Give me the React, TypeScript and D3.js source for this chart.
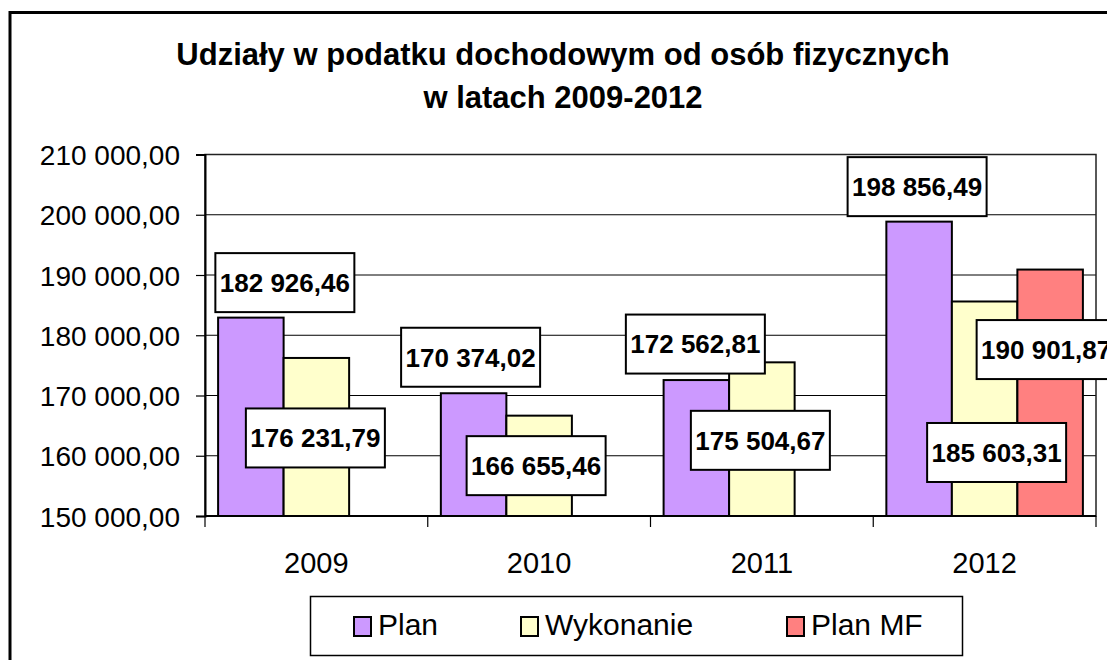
import * as d3 from 'd3'
import React, { useRef, useEffect } from 'react'

// chart data
const years = ['2009', '2010', '2011', '2012']
const seriesNames = ['Plan', 'Wykonanie', 'Plan MF']
const planValues = [182926.46, 170374.02, 172562.81, 198856.49]
const wykonanieValues = [176231.79, 166655.46, 175504.67, 185603.31]
const planMfValues: (number | null)[] = [null, null, null, 190901.87]
const yTicks = [150000, 160000, 170000, 180000, 190000, 200000, 210000]
const titleLines = ['Udziały w podatku dochodowym od osób fizycznych', 'w latach 2009-2012']

// where the value boxes were dragged to (offset from the top centre of each bar)
const labelOffsets: ([number, number] | null)[][] = [
    [[34, -35], [-3, -36], [-1, -36], [-2, -35]],
    [[-1, 80], [-3, 50], [-1.5, 78], [12, 151]],
    [null, null, null, [-4, 80]],
]
const colors = ['#CC99FF', '#FFFFCC', '#FF8080']
const legendX = [354, 521, 787]

const FONT = '"Liberation Sans", Arial, sans-serif'

export default function App() {
    const svgRef = useRef<SVGSVGElement>(null)

    useEffect(() => {
        const w = 1107
        const h = 660
        const left = 205, right = 1096, top = 154.5, bottom = 516

        const svg = d3.select(svgRef.current)
        svg.selectAll('*').remove()
        svg.attr('width', w).attr('height', h).style('font-family', FONT)

        // outer chart frame (only left and top are inside the picture)
        svg.append('rect')
            .attr('x', 10).attr('y', 12.5)
            .attr('width', w + 20).attr('height', h + 20)
            .attr('fill', 'white').attr('stroke', 'black').attr('stroke-width', 3)

        // title
        svg.append('text')
            .attr('text-anchor', 'middle')
            .attr('font-weight', 'bold')
            .attr('font-size', 31)
            .selectAll('tspan')
            .data(titleLines)
            .join('tspan')
            .attr('x', 563)
            .attr('y', (d, i) => 65 + i * 43)
            .text(d => d)

        const x0 = d3.scaleBand().domain(years).range([left, right]).paddingInner(0).paddingOuter(0)
        const x1 = d3.scaleBand().domain(seriesNames).range([0, x0.bandwidth()]).paddingInner(0).paddingOuter(0.2)
        const y = d3.scaleLinear().domain([150000, 210000]).range([bottom, top])

        const locale = d3.formatLocale({ decimal: ',', thousands: ' ', grouping: [3], currency: ['', ''] })
        const fmt = locale.format(',.2f')

        // grid
        svg.append('g')
            .selectAll('line')
            .data(yTicks)
            .join('line')
            .attr('x1', left).attr('x2', right)
            .attr('y1', d => y(d)).attr('y2', d => y(d))
            .attr('stroke', 'black').attr('stroke-width', 1)

        // plot frame
        svg.append('rect')
            .attr('x', left).attr('y', top)
            .attr('width', right - left).attr('height', bottom - top)
            .attr('fill', 'none').attr('stroke', '#222').attr('stroke-width', 1.5)

        // y axis
        const yAxis = svg.append('g')
            .attr('transform', `translate(${left},0)`)
            .call(d3.axisLeft(y).tickValues(yTicks).tickFormat(d => fmt(d as number)).tickSize(9).tickPadding(16))
        yAxis.select('.domain').attr('stroke', 'black').attr('stroke-width', 2)
        yAxis.selectAll('.tick line').attr('stroke', 'black').attr('stroke-width', 1.2)
        yAxis.selectAll('.tick text')
            .attr('font-family', FONT).attr('font-size', 28).attr('fill', 'black')
            .attr('dy', '0.36em')

        // bars
        const allValues = [planValues, wykonanieValues, planMfValues]
        seriesNames.forEach((name, s) => {
            svg.append('g')
                .selectAll('rect')
                .data(years.map((yr, i) => ({ yr, v: allValues[s][i] })).filter(d => d.v != null))
                .join('rect')
                .attr('x', d => (x0(d.yr) as number) + (x1(name) as number))
                .attr('y', d => y(d.v as number))
                .attr('width', x1.bandwidth())
                .attr('height', d => bottom - y(d.v as number))
                .attr('fill', colors[s])
                .attr('stroke', 'black')
                .attr('stroke-width', 2)
        })

        // x axis line and category ticks
        svg.append('line')
            .attr('x1', left).attr('x2', right)
            .attr('y1', bottom).attr('y2', bottom)
            .attr('stroke', 'black').attr('stroke-width', 2)
        const bounds = years.map(yr => x0(yr) as number).concat([right])
        svg.append('g')
            .selectAll('line')
            .data(bounds)
            .join('line')
            .attr('x1', d => d).attr('x2', d => d)
            .attr('y1', bottom).attr('y2', bottom + 11)
            .attr('stroke', 'black').attr('stroke-width', 1.2)
        svg.append('g')
            .selectAll('text')
            .data(years)
            .join('text')
            .attr('x', d => (x0(d) as number) + x0.bandwidth() / 2)
            .attr('y', 573)
            .attr('text-anchor', 'middle')
            .attr('font-size', 29)
            .text(d => d)

        // value boxes
        seriesNames.forEach((name, s) => {
            years.forEach((yr, i) => {
                const v = allValues[s][i]
                const off = labelOffsets[s][i]
                if (v == null || !off) return
                const cx = (x0(yr) as number) + (x1(name) as number) + x1.bandwidth() / 2 + off[0]
                const cy = y(v) + off[1]
                const g = svg.append('g').attr('transform', `translate(${cx},${cy})`)
                g.append('rect')
                    .attr('x', -69.5).attr('y', -29.5)
                    .attr('width', 139).attr('height', 59)
                    .attr('fill', 'white').attr('stroke', 'black').attr('stroke-width', 2)
                g.append('text')
                    .attr('text-anchor', 'middle')
                    .attr('dy', '0.36em')
                    .attr('font-weight', 'bold')
                    .attr('font-size', 26)
                    .text(fmt(v))
            })
        })

        // legend
        svg.append('rect')
            .attr('x', 310.5).attr('y', 596.5)
            .attr('width', 652).attr('height', 59)
            .attr('fill', 'white').attr('stroke', 'black').attr('stroke-width', 1.5)
        const items = svg.append('g')
            .selectAll('g')
            .data(seriesNames)
            .join('g')
            .attr('transform', (d, i) => `translate(${legendX[i]},617)`)
        items.append('rect')
            .attr('width', 17).attr('height', 19)
            .attr('fill', (d, i) => colors[i])
            .attr('stroke', 'black').attr('stroke-width', 2)
        items.append('text')
            .attr('x', 24).attr('y', 18)
            .attr('font-size', 30)
            .text(d => d)
    }, [])

    return (
        <div style={{ position: 'absolute', left: 0, top: 0 }}>
            <svg ref={svgRef} style={{ display: 'block' }}></svg>
        </div>
    )
}
